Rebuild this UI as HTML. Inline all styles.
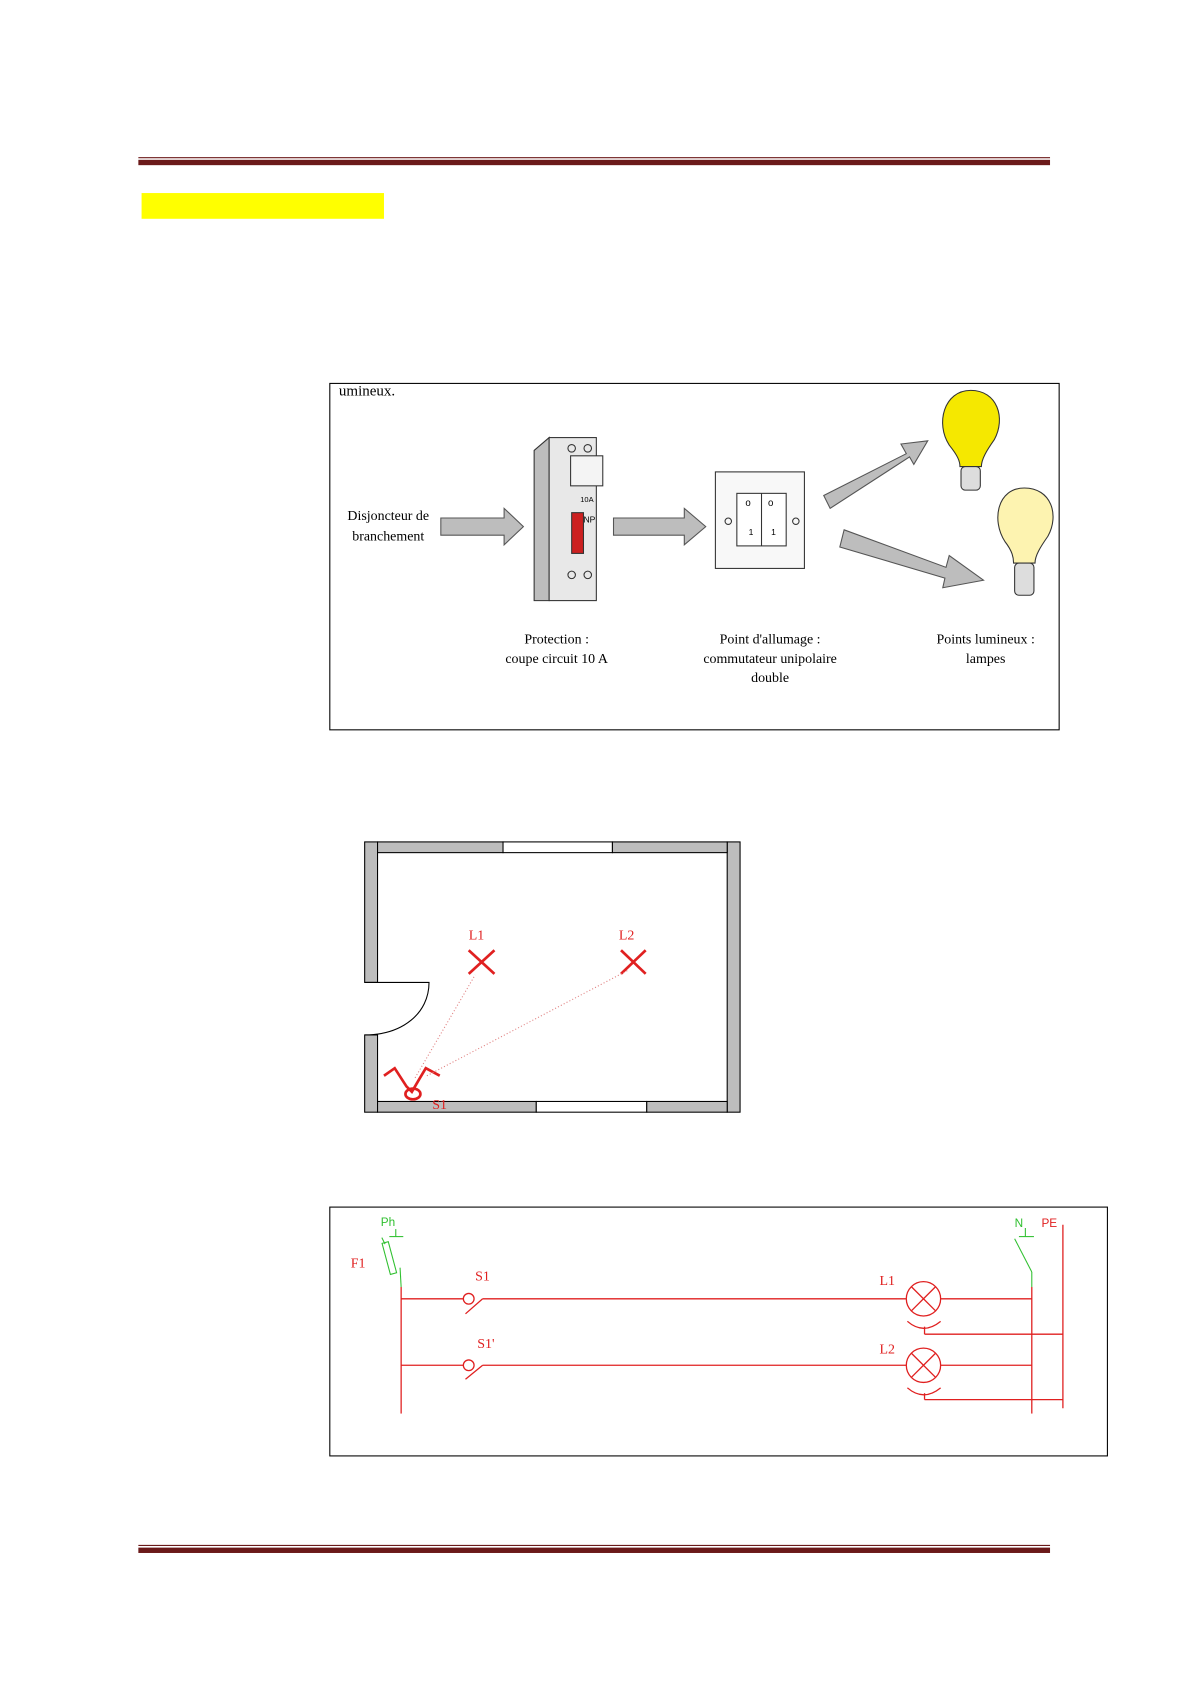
<!DOCTYPE html>
<html><head><meta charset="utf-8"><style>html,body{margin:0;padding:0;background:#fff}svg{display:block}</style></head>
<body>
<svg width="1190" height="1682" viewBox="0 0 1109.5 1568.3" preserveAspectRatio="none" xmlns="http://www.w3.org/2000/svg" font-family="Liberation Serif, serif">
<rect width="1110" height="1570" fill="#fff"/>
<line x1="129" y1="147" x2="979" y2="147" stroke="#6b1a1a" stroke-width="1"/>
<rect x="129" y="149" width="850" height="5" fill="#6b1a1a"/>
<line x1="129" y1="1441" x2="979" y2="1441" stroke="#6b1a1a" stroke-width="1"/>
<rect x="129" y="1443" width="850" height="5" fill="#6b1a1a"/>
<rect x="132" y="180" width="226" height="24" fill="#ffff00"/>

<rect x="307.5" y="357.5" width="680" height="323" fill="none" stroke="#000"/>
<text x="316" y="369" font-size="14">umineux.</text>
<g fill="#bdbdbd" stroke="#555" stroke-width="1">
<polygon points="411,483 470,483 470,474 488,491 470,508 470,499 411,499"/>
<polygon points="572,483 638,483 638,474 658,491 638,508 638,499 572,499"/>
<polygon points="768,462 845,423 840,414 865,411 852,433 848,426 774,474"/>
<polygon points="787,494 882,529 885,518 917,541 879,548 881,539 783,510"/>
</g>
<polygon points="498,420 512,408 512,560 498,560" fill="#bdbdbd" stroke="#333"/>
<rect x="512" y="408" width="44" height="152" fill="#e8e8e8" stroke="#333"/>
<rect x="532" y="425" width="30" height="28" fill="#f4f4f4" stroke="#333"/>
<rect x="533" y="478" width="11" height="38" fill="#cc2020" stroke="#333"/>
<text x="541" y="468" font-size="7" font-family="Liberation Sans">10A</text>
<text x="544" y="487" font-size="8" font-family="Liberation Sans">NP</text>
<circle cx="533" cy="418" r="3.5" fill="none" stroke="#333"/><circle cx="548" cy="418" r="3.5" fill="none" stroke="#333"/>
<circle cx="533" cy="536" r="3.5" fill="none" stroke="#333"/><circle cx="548" cy="536" r="3.5" fill="none" stroke="#333"/>
<rect x="667" y="440" width="83" height="90" fill="#f8f8f8" stroke="#333"/>
<rect x="687" y="460" width="46" height="49" fill="#fff" stroke="#333"/>
<line x1="710" y1="460" x2="710" y2="509" stroke="#333"/>
<text x="695" y="472" font-size="9" font-family="Liberation Sans">o</text><text x="716" y="472" font-size="9" font-family="Liberation Sans">o</text>
<text x="698" y="499" font-size="8" font-family="Liberation Sans">1</text><text x="719" y="499" font-size="8" font-family="Liberation Sans">1</text>
<circle cx="679" cy="486" r="3" fill="none" stroke="#333"/><circle cx="742" cy="486" r="3" fill="none" stroke="#333"/>
<path d="M905,364 C880,364 872,395 885,415 C893,425 895,430 895,435 L915,435 C915,428 920,420 927,410 C938,390 930,364 905,364 Z" fill="#f5e800" stroke="#333"/>
<rect x="896" y="435" width="18" height="22" rx="4" fill="#ddd" stroke="#333"/>
<path d="M955,455 C930,455 924,485 937,505 C944,514 945,520 945,525 L965,525 C965,518 970,510 977,500 C988,480 980,455 955,455 Z" fill="#fdf3b0" stroke="#333"/>
<rect x="946" y="525" width="18" height="30" rx="4" fill="#ddd" stroke="#333"/>
<g font-size="13" text-anchor="middle">
<text x="362" y="485">Disjoncteur de</text><text x="362" y="504">branchement</text>
<text x="519" y="600">Protection :</text><text x="519" y="618">coupe circuit 10 A</text>
<text x="718" y="600">Point d'allumage :</text><text x="718" y="618">commutateur unipolaire</text><text x="718" y="636">double</text>
<text x="919" y="600">Points lumineux :</text><text x="919" y="618">lampes</text>
</g>

<g stroke="#000" stroke-width="1" fill="#bdbdbd">
<rect x="340" y="785" width="12" height="131"/>
<rect x="340" y="965" width="12" height="72"/>
<rect x="678" y="785" width="12" height="252"/>
<rect x="352" y="785" width="117" height="10"/>
<rect x="469" y="785" width="102" height="10" fill="#fff"/>
<rect x="571" y="785" width="107" height="10"/>
<rect x="352" y="1027" width="148" height="10"/>
<rect x="500" y="1027" width="103" height="10" fill="#fff"/>
<rect x="603" y="1027" width="75" height="10"/>
</g>
<path d="M340,916 L400,916 C400,945 375,965 340,965" fill="none" stroke="#000"/>
<g stroke="#e02020" stroke-width="2.5" fill="none">
<line x1="437" y1="886" x2="461" y2="908"/><line x1="461" y1="886" x2="437" y2="908"/>
<line x1="579" y1="886" x2="602" y2="908"/><line x1="602" y1="886" x2="579" y2="908"/>
<polyline points="358,1003 368,996 379,1013 384,1018 391,1006 397,996 410,1003"/>
<ellipse cx="385" cy="1020" rx="7" ry="5"/>
</g>
<g stroke="#e08080" stroke-width="1" stroke-dasharray="1,2"><line x1="387" y1="1005" x2="443" y2="909"/><line x1="398" y1="1003" x2="585" y2="905"/></g>
<g fill="#e02020" font-size="13"><text x="437" y="876">L1</text><text x="577" y="876">L2</text><text x="403" y="1034">S1</text></g>

<rect x="307.5" y="1125.5" width="725" height="232" fill="none" stroke="#000"/>
<g stroke="#e02020" stroke-width="1.2" fill="none">
<line x1="374" y1="1200" x2="374" y2="1318"/>
<line x1="374" y1="1211" x2="432" y2="1211"/><circle cx="437" cy="1211" r="5"/>
<line x1="434" y1="1225" x2="450" y2="1211"/><line x1="450" y1="1211" x2="845" y2="1211"/>
<line x1="374" y1="1273" x2="432" y2="1273"/><circle cx="437" cy="1273" r="5"/>
<line x1="434" y1="1286" x2="450" y2="1273"/><line x1="450" y1="1273" x2="845" y2="1273"/>
<circle cx="861" cy="1211" r="16"/><line x1="850" y1="1200" x2="872" y2="1222"/><line x1="872" y1="1200" x2="850" y2="1222"/>
<circle cx="861" cy="1273" r="16"/><line x1="850" y1="1262" x2="872" y2="1284"/><line x1="872" y1="1262" x2="850" y2="1284"/>
<line x1="877" y1="1211" x2="962" y2="1211"/><line x1="877" y1="1273" x2="962" y2="1273"/>
<line x1="962" y1="1200" x2="962" y2="1318"/><line x1="991" y1="1142" x2="991" y2="1313"/>
<path d="M846,1232 Q861,1245 877,1232"/><line x1="862" y1="1237" x2="862" y2="1244"/><line x1="862" y1="1244" x2="991" y2="1244"/>
<path d="M846,1294 Q861,1307 877,1294"/><line x1="862" y1="1299" x2="862" y2="1305"/><line x1="862" y1="1305" x2="991" y2="1305"/>
</g>
<g stroke="#30c030" stroke-width="1" fill="none">
<line x1="374" y1="1200" x2="373" y2="1182"/>
<rect x="360" y="1158" width="6" height="30" transform="rotate(-15 363 1173)"/>
<line x1="356" y1="1154" x2="359" y2="1160"/>
<line x1="369" y1="1146" x2="369" y2="1153"/><line x1="363" y1="1153" x2="376" y2="1153"/>
<line x1="962" y1="1200" x2="962" y2="1186"/><line x1="962" y1="1186" x2="946" y2="1155"/>
<line x1="956" y1="1145" x2="956" y2="1153"/><line x1="950" y1="1153" x2="964" y2="1153"/>
</g>
<g fill="#30c030" font-size="11" font-family="Liberation Sans"><text x="355" y="1143">Ph</text><text x="946" y="1144">N</text></g>
<text x="971" y="1144" fill="#e02020" font-size="11" font-family="Liberation Sans">PE</text>
<g fill="#e02020" font-size="13"><text x="327" y="1182">F1</text><text x="443" y="1194">S1</text><text x="445" y="1257">S1'</text><text x="820" y="1198">L1</text><text x="820" y="1262">L2</text></g>
</svg>
</body></html>
